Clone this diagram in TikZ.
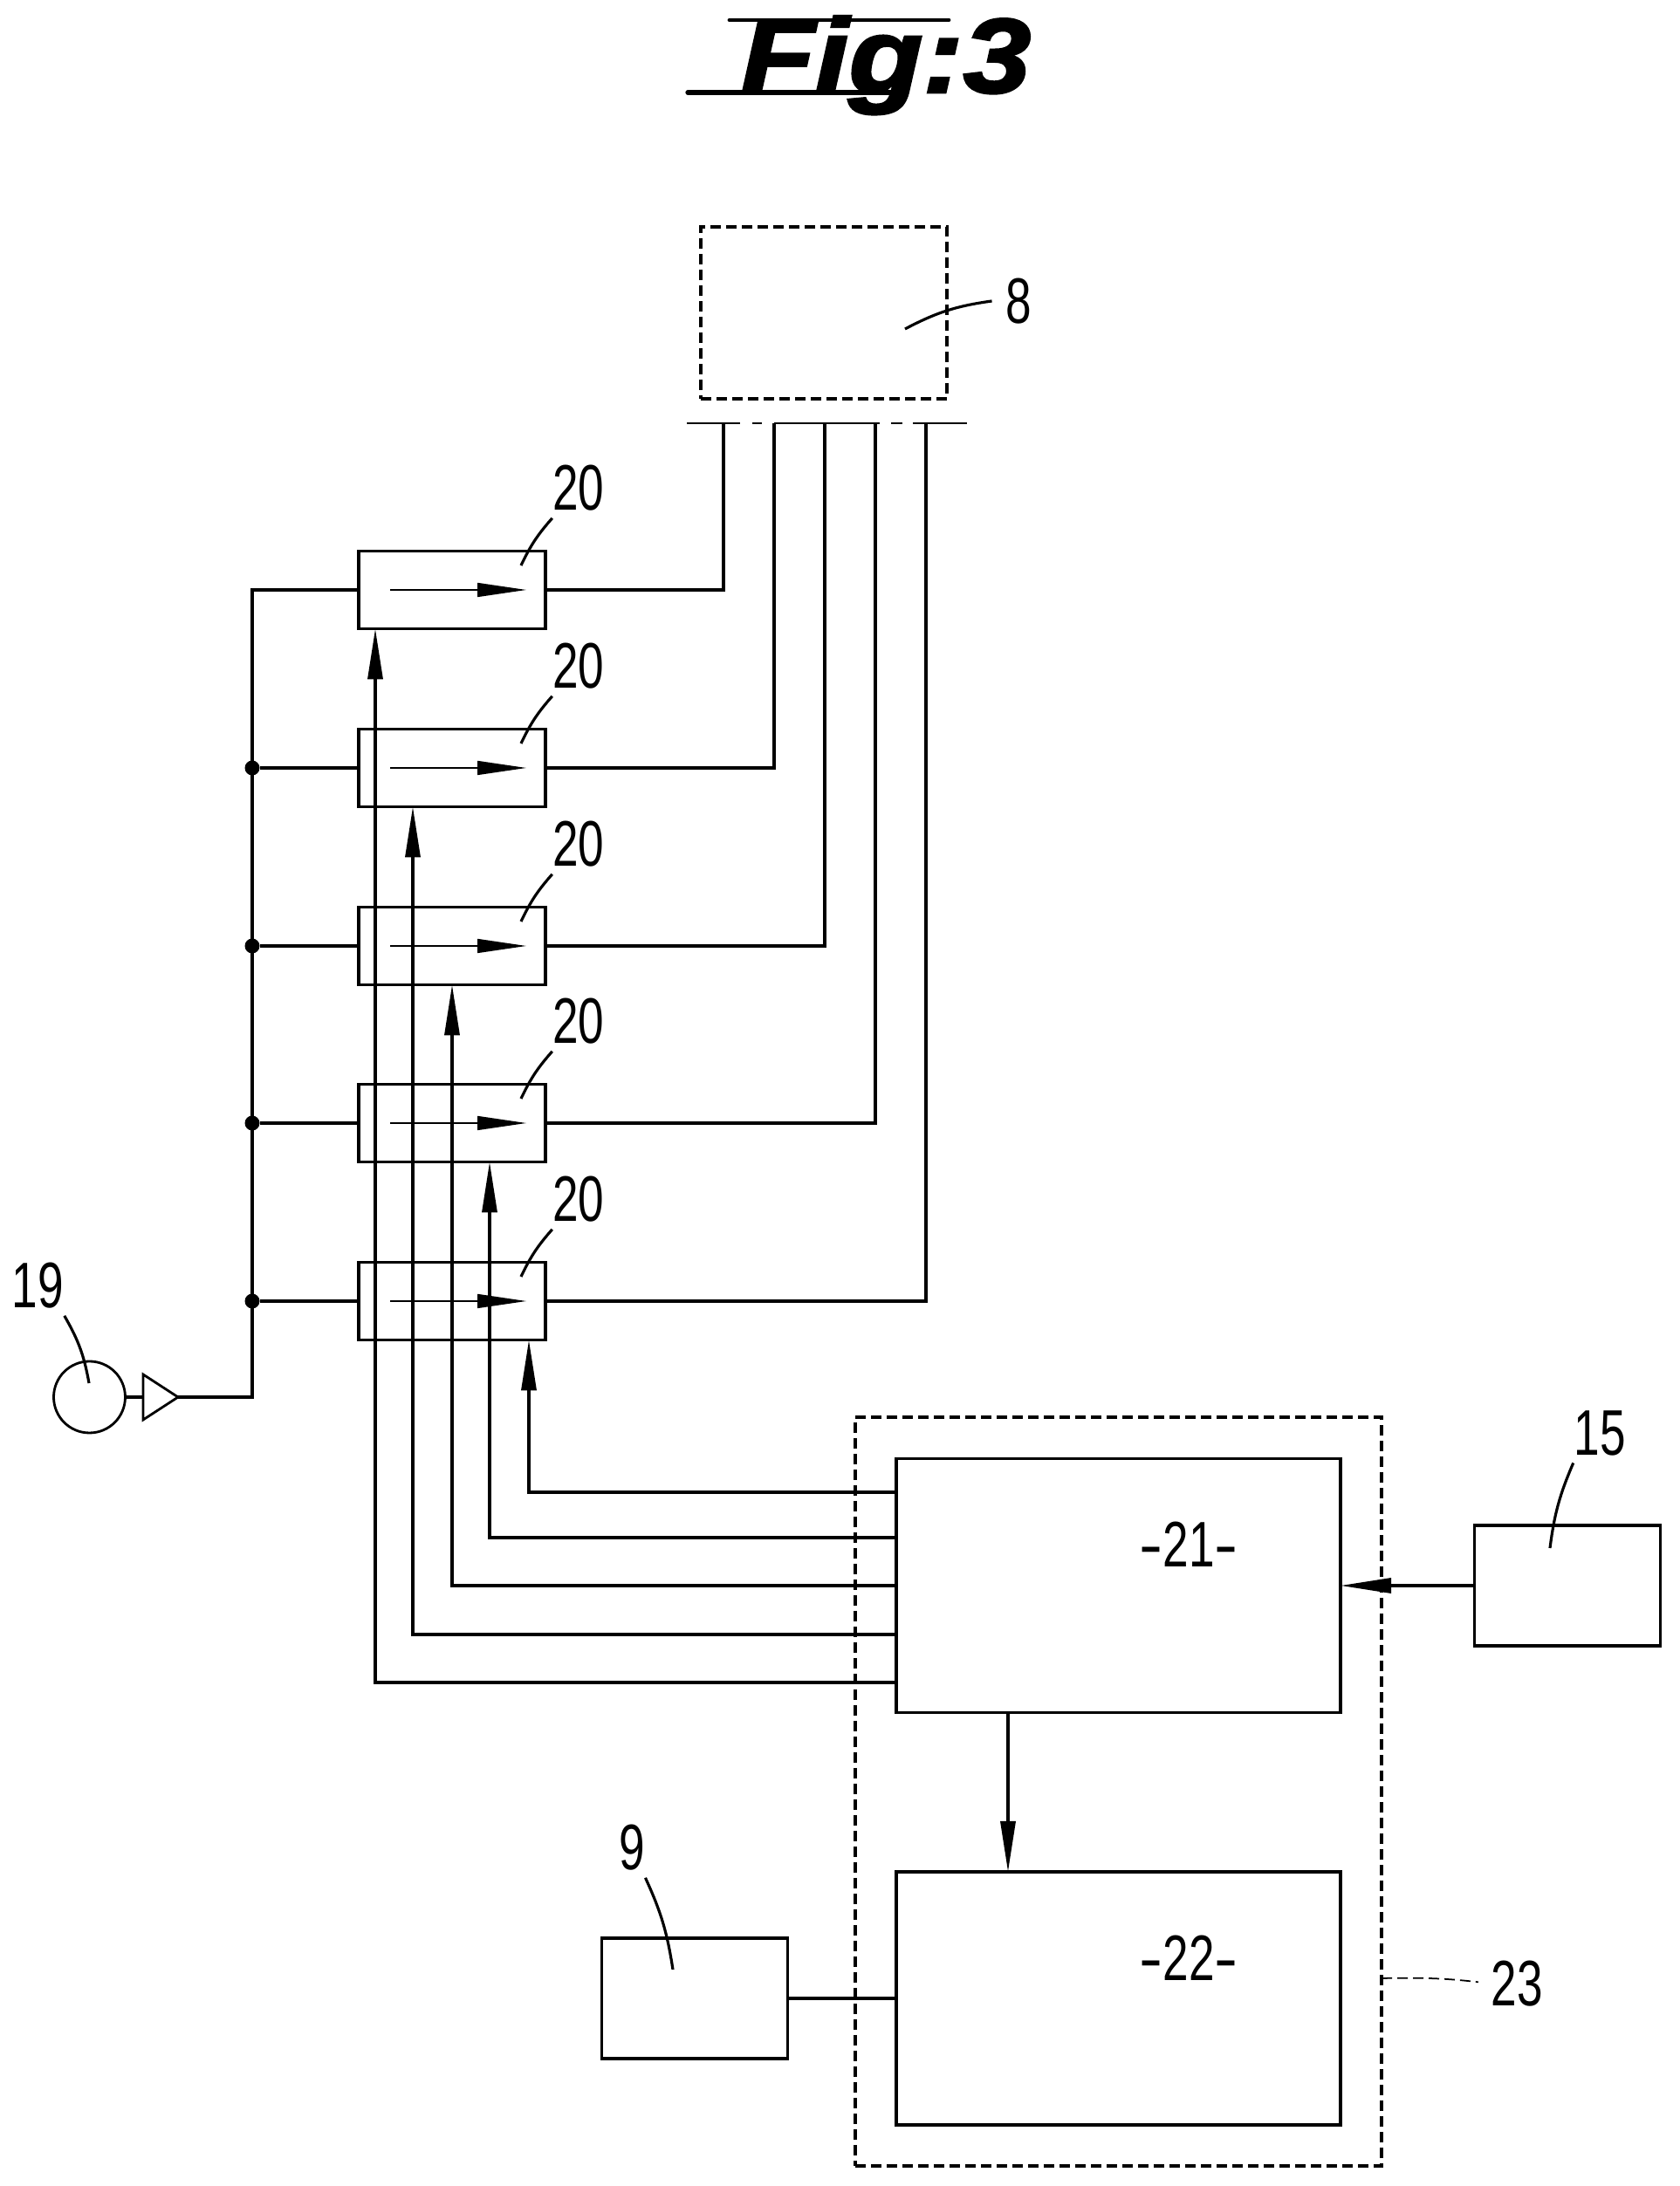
\documentclass[tikz,border=0pt]{standalone}
\usepackage{fontspec}
\usetikzlibrary{shapes}
\usetikzlibrary{arrows.meta}
\newfontfamily\labelfont[FakeStretch=0.72]{Liberation Sans}
\newfontfamily\dashfont[FakeStretch=1.1]{Liberation Sans}
\newfontfamily\titlefont[FakeStretch=1.15,BoldItalicFeatures={FakeBold=2.5}]{Liberation Sans}
\tikzset{
    mybox/.style = {rectangle, draw=black, line width=0.95pt, inner sep=0, outer sep=0},
    valve/.style = {mybox, minimum width=2.14cm, minimum height=0.89cm},
    ctrlbox/.style = {mybox, minimum width=5.09cm, minimum height=2.91cm},
    sidebox/.style = {mybox, minimum width=2.13cm, minimum height=1.38cm},
    dashbox/.style = {mybox, dash pattern=on 1.2mm off 0.6mm},
    pump/.style = {circle, draw=black, line width=0.8pt, minimum size=0.82cm, inner sep=0, outer sep=0},
    amp/.style = {isosceles triangle, isosceles triangle stretches, draw=black, line width=0.8pt, minimum height=0.40cm, minimum width=0.52cm, inner sep=0, outer sep=0},
    dot/.style = {circle, fill=black, minimum size=0.17cm, inner sep=0, outer sep=0},
    mylabel/.style = {font=\labelfont\fontsize{21}{21}\selectfont, inner xsep=0, inner ysep=0.08cm, yshift=-0.03cm},
    edgen/.style = {line width=0.95pt},
    edgea/.style = {line width=0.95pt, -{Triangle[length=5.8mm,width=1.7mm]}},
    edgei/.style = {line width=0.45pt, -{Triangle[length=5.6mm,width=1.6mm]}},
    leader/.style = {line width=0.9pt},
    bar/.style = {line width=0.45pt},
}
\begin{document}
\begin{tikzpicture}
\useasboundingbox (0,0) rectangle (19.24,25.05);

% title
\node[font=\titlefont\bfseries\itshape\fontsize{34.4}{34.4}\selectfont, inner sep=0, anchor=base] at (10.15, 23.99) (title) {Fig:3};
\coordinate (tl) at (8.36, 24.82);
\coordinate (tr) at (10.87, 24.82);
\coordinate (ul) at (7.88, 23.99);
\coordinate (ur) at (10.30, 23.99);
\draw[line width=1.4pt, line cap=round] (tl) -- (tr);
\draw[line width=1.5pt, line cap=round] (ul) -- (ur);

% top unit
\node[dashbox, minimum width=2.82cm, minimum height=1.97cm] at (9.44, 21.465) (unit) {};
\node[mylabel] at (11.67, 21.63) (l8) {8};
\coordinate (e8) at (10.37, 21.28);
\draw[leader] ([xshift=-0.15cm]l8.west) to[bend right=10] (e8);

\coordinate (t1) at (8.29, 20.20);
\coordinate (t2) at (8.87, 20.20);
\coordinate (t3) at (9.45, 20.20);
\coordinate (t4) at (10.03, 20.20);
\coordinate (t5) at (10.61, 20.20);
\draw[bar] (7.87, 20.20) -- (t1) -- (8.48, 20.20);
\draw[bar] (8.62, 20.20) -- (8.73, 20.20);
\draw[bar] (t2) -- (t3) -- (t4) -- (10.08, 20.20);
\draw[bar] (10.21, 20.20) -- (10.34, 20.20);
\draw[bar] (10.46, 20.20) -- (t5) -- (11.08, 20.20);

% valves
\node[valve] at (5.18, 18.29) (v1) {};
\node[valve] at (5.18, 16.25) (v2) {};
\node[valve] at (5.18, 14.21) (v3) {};
\node[valve] at (5.18, 12.18) (v4) {};
\node[valve] at (5.18, 10.14) (v5) {};
\foreach \i in {1,...,5} {
    \draw[edgei] ([xshift=0.36cm]v\i.west) -- ([xshift=-0.22cm]v\i.east);
    \draw[edgen] (v\i.east) -| (t\i);
    \node[mylabel] at ([shift={(1.45,1.20)}]v\i.center) (l20\i) {20};
    \coordinate (e20\i) at ([shift={(0.79,0.28)}]v\i.center);
    \draw[leader] (l20\i.south west) to[bend right=8] (e20\i);
}

% pump and bus
\node[pump] at (1.025, 9.04) (p) {};
\node[amp, anchor=apex] at (2.04, 9.04) (a) {};
\draw[edgen] (p.east) -- (a.lower side);
\coordinate (b1) at (2.89, 18.29);
\node[dot] at (2.89, 16.25) (b2) {};
\node[dot] at (2.89, 14.21) (b3) {};
\node[dot] at (2.89, 12.18) (b4) {};
\node[dot] at (2.89, 10.14) (b5) {};
\draw[edgen] (a.apex) -| (b1) -- (v1.west);
\foreach \i in {2,...,5} {
    \draw[edgen] (b\i) -- (v\i.west);
}
\node[mylabel] at (0.435, 10.35) (l19) {19};
\coordinate (e19) at (1.02, 9.20);
\draw[leader] (l19.south east) to[bend left=10] (e19);

% control block
\node[dashbox, minimum width=6.03cm, minimum height=8.58cm] at (12.815, 4.52) (c23) {};
\node[ctrlbox] at (12.815, 6.88) (c21) {};
\node[ctrlbox, minimum height=2.90cm] at (12.815, 2.15) (c22) {};
\node[mylabel] at (13.62, 7.38) (l21) {{\dashfont -}21{\dashfont -}};
\node[mylabel] at (13.62, 2.64) (l22) {{\dashfont -}22{\dashfont -}};
\draw[edgea] (c21.south -| 11.55,0) -- (c22.north -| 11.55,0);
\foreach \i/\x/\y in {1/4.30/5.77, 2/4.73/6.32, 3/5.18/6.88, 4/5.61/7.43, 5/6.06/7.95} {
    \draw[edgea] (c21.west |- 0,\y) -| (v\i.south -| \x,0);
}
\node[mylabel] at (17.38, 2.35) (l23) {23};
\draw[leader, line width=0.5pt, dash pattern=on 1.2mm off 0.6mm, shorten >=0.14cm] (c23.east |- 0,2.38) to[bend left=4] (l23.west);

% sources
\node[sidebox] at (17.96, 6.88) (s15) {};
\node[mylabel] at (18.33, 8.66) (l15) {15};
\coordinate (e15) at (17.76, 7.31);
\draw[leader] (l15.south west) to[bend right=8] (e15);
\draw[edgea] (s15.west) -- (c21.east);

\node[sidebox] at (7.96, 2.15) (s9) {};
\node[mylabel] at (7.24, 3.91) (l9) {9};
\coordinate (e9) at (7.71, 2.48);
\draw[leader] (l9.south east) to[bend left=8] (e9);
\draw[edgen] (s9.east) -- (c22.west);

\end{tikzpicture}
\end{document}
